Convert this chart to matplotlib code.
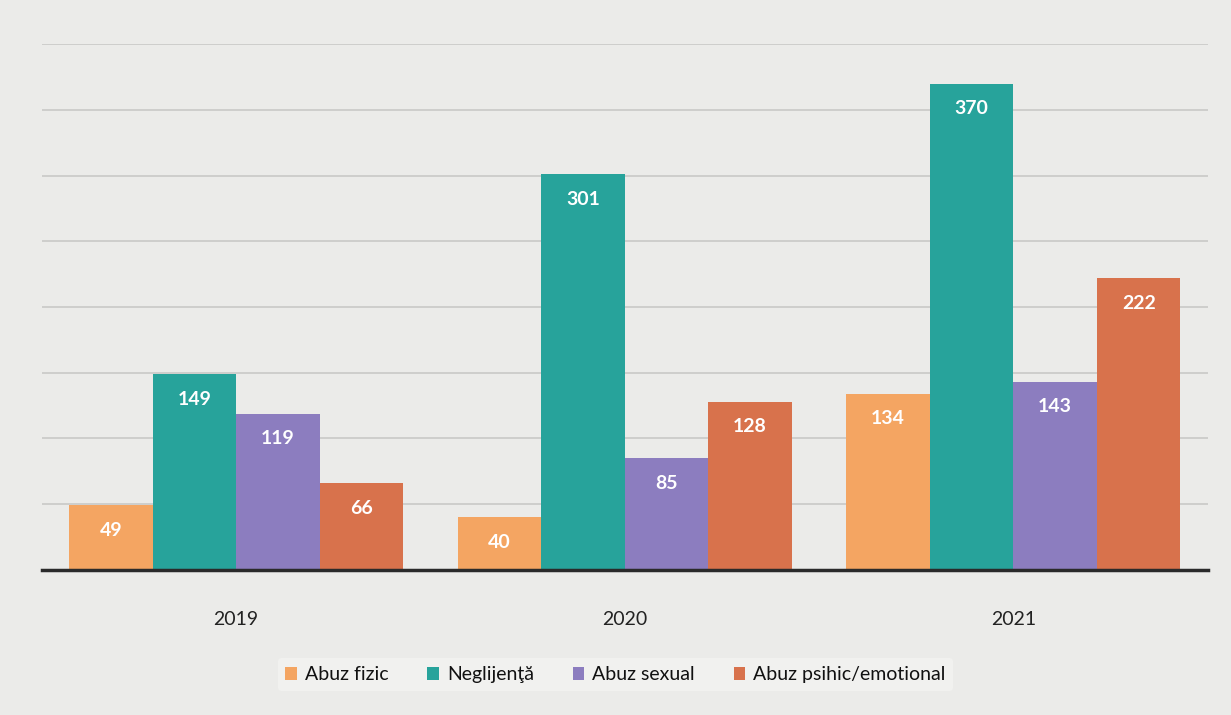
import numpy as np
import matplotlib.pyplot as plt

years = ["2019", "2020", "2021"]
series = ["Abuz fizic", "Neglijenţă", "Abuz sexual", "Abuz psihic/emotional"]
abuz_fizic = [49, 40, 134]
neglijenta = [149, 301, 370]
abuz_sexual = [119, 85, 143]
abuz_psihic = [66, 128, 222]
colors = ["#F4A562", "#27A39B", "#8C7DBF", "#D8724C"]


def main():
    plt.rcParams["font.family"] = ["Lato", "DejaVu Sans"]
    values = [abuz_fizic, neglijenta, abuz_sexual, abuz_psihic]

    fig = plt.figure(figsize=(12.31, 7.15), dpi=100, facecolor="#ebebe9")
    ax = fig.add_axes([0.034, 0.203, 0.947, 0.735])
    ax.set_facecolor("#ebebe9")

    x = np.arange(len(years))
    width = 0.215
    for i, (name, vals) in enumerate(zip(series, values)):
        pos = x + (i - 1.5) * width
        bars = ax.bar(pos, vals, width, color=colors[i], label=name, zorder=3)
        for b, v in zip(bars, vals):
            ax.annotate(str(v), (b.get_x() + b.get_width() / 2, v),
                        xytext=(0, -18), textcoords="offset points",
                        ha="center", va="center", color="white",
                        fontsize=14, fontweight="bold", zorder=4)

    ax.set_ylim(0, 400)
    ax.set_xlim(-0.5, 2.5)
    ax.set_yticks(np.arange(0, 401, 50))
    ax.yaxis.grid(True, color="#c9c9c7", linewidth=1.2, zorder=0)
    ax.tick_params(axis="y", left=False, labelleft=False)
    ax.tick_params(axis="x", bottom=False, pad=26, labelsize=14, labelcolor="#222222")
    ax.set_xticks(x)
    ax.set_xticklabels(years)
    for s in ["top", "right", "left"]:
        ax.spines[s].set_visible(False)
    ax.spines["bottom"].set_color("#2a2a2a")
    ax.spines["bottom"].set_linewidth(2.5)
    ax.spines["bottom"].set_zorder(5)

    fig.legend(loc="lower center", ncol=4, bbox_to_anchor=(0.5, 0.02),
               frameon=True, facecolor="#f3f3f1", edgecolor="none",
               fontsize=14, handlelength=0.6, handleheight=0.6,
               handletextpad=0.4, columnspacing=2.0, labelcolor="#111111")

    fig.savefig("out.png", dpi=100, facecolor=fig.get_facecolor())


if __name__ == "__main__":
    main()
